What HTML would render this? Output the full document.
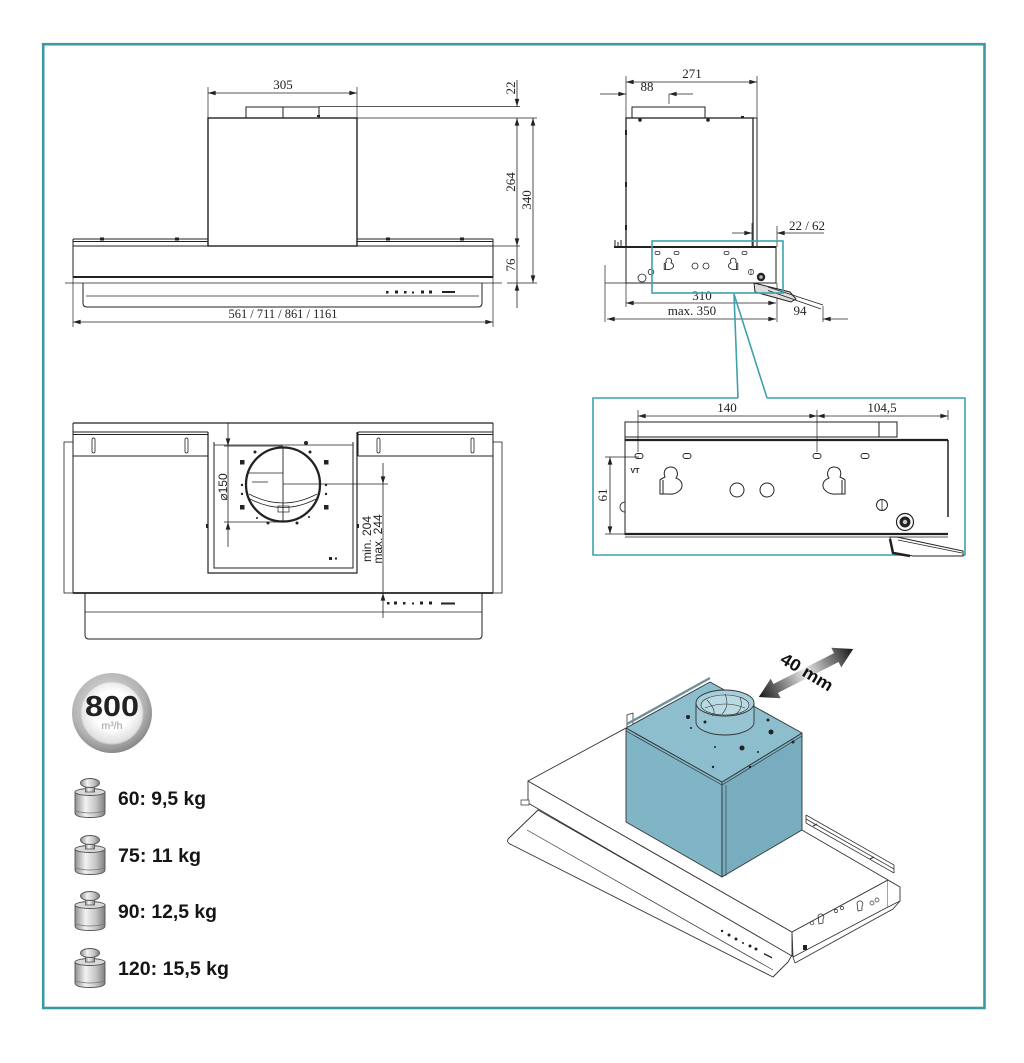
<!DOCTYPE html>
<html>
<head>
<meta charset="utf-8">
<style>
html,body{margin:0;padding:0;background:#fff}
svg{display:block}
.d{font-family:"Liberation Serif",serif;font-size:13px;fill:#222;text-anchor:middle;stroke:none}
.s{font-family:"Liberation Sans","DejaVu Sans",sans-serif;font-size:12px;fill:#222;text-anchor:middle;stroke:none}
.w{font-family:"Liberation Sans",sans-serif;font-size:19px;font-weight:bold;fill:#151515;stroke:none}
</style>
</head>
<body>
<svg width="1024" height="1063" viewBox="0 0 1024 1063" xmlns="http://www.w3.org/2000/svg">
<defs>
  <marker id="m" viewBox="0 0 10 6" refX="10" refY="3" markerWidth="8" markerHeight="4.6" markerUnits="userSpaceOnUse" orient="auto-start-reverse">
    <path d="M0,0 L10,3 L0,6 Z" fill="#222"/>
  </marker>
  <linearGradient id="wg" x1="0" y1="0" x2="1" y2="0">
    <stop offset="0" stop-color="#8e8e8e"/>
    <stop offset="0.35" stop-color="#f2f2f2"/>
    <stop offset="0.7" stop-color="#c4c4c4"/>
    <stop offset="1" stop-color="#7e7e7e"/>
  </linearGradient>
  <radialGradient id="bg1" cx="0.45" cy="0.4" r="0.6">
    <stop offset="0" stop-color="#e6e6e6"/>
    <stop offset="0.75" stop-color="#b3b3b3"/>
    <stop offset="1" stop-color="#8a8a8a"/>
  </radialGradient>
  <radialGradient id="bg2" cx="0.5" cy="0.45" r="0.55">
    <stop offset="0.55" stop-color="#ffffff"/>
    <stop offset="1" stop-color="#dcdcdc"/>
  </radialGradient>
  <linearGradient id="ag" x1="0" y1="0" x2="1" y2="0">
    <stop offset="0" stop-color="#151515"/>
    <stop offset="0.5" stop-color="#eaeaea"/>
    <stop offset="1" stop-color="#151515"/>
  </linearGradient>
  <g id="wt">
    <path d="M0,14 V35 Q0,39.5 15,39.5 Q30,39.5 30,35 V14 Z" fill="url(#wg)" stroke="#555" stroke-width="0.9"/>
    <path d="M0.5,33 Q15,37 29.5,33" fill="none" stroke="#777" stroke-width="0.7"/>
    <ellipse cx="15" cy="14" rx="15" ry="3.5" fill="#d8d8d8" stroke="#555" stroke-width="0.9"/>
    <rect x="10.5" y="6" width="9" height="8" fill="url(#wg)" stroke="#555" stroke-width="0.8"/>
    <ellipse cx="15" cy="5" rx="9.5" ry="4.5" fill="url(#wg)" stroke="#555" stroke-width="0.9"/>
  </g>
  <path id="kh" d="M660,480 L660,494 L668,494 C676,495 683,490 682,484 C681,480 678,479 676,478 C679,474 677,467 671,467 C665,467 663,472 665,477 C663,478 661,479 660,480 Z M663,480 V494"/>
</defs>

<rect x="0" y="0" width="1024" height="1063" fill="#fff"/>
<rect x="43.2" y="44.2" width="941.3" height="963.8" fill="none" stroke="#3a9aa4" stroke-width="2.6"/>

<!-- ================= FRONT VIEW ================= -->
<g stroke="#222" fill="none" stroke-width="1">
  <line x1="208" y1="93" x2="357" y2="93" stroke-width=".8" marker-start="url(#m)" marker-end="url(#m)"/>
  <path d="M208,87V118M357,87V118" stroke-width=".7"/>
  <rect x="246" y="107" width="73" height="11"/>
  <path d="M283,107V118"/>
  <path d="M319,106.5H520" stroke-width=".7"/>
  <rect x="208" y="118" width="149" height="128" stroke-width="1.4"/>
  <path d="M357,118H537" stroke-width=".7"/>
  <path d="M73,239H208M73,241.5H208M73,239V246M357,239H493M357,241.5H493M493,239V246"/>
  <rect x="73" y="246" width="420" height="31"/>
  <path d="M73,277H493" stroke-width="2"/>
  <path d="M65,283H502" stroke-width=".8"/>
  <path d="M493,246H520M507,283H537" stroke-width=".7"/>
  <path d="M83,283V303Q83,307 87,307H478Q482,307 482,303V283"/>
  <path d="M86,296H479" stroke-width=".7"/>
  <line x1="517" y1="80" x2="517" y2="106.5" stroke-width=".8" marker-end="url(#m)"/>
  <line x1="517" y1="118" x2="517" y2="246" stroke-width=".8" marker-start="url(#m)" marker-end="url(#m)"/>
  <line x1="517" y1="246" x2="517" y2="283" stroke-width=".8"/>
  <line x1="517" y1="308" x2="517" y2="283" stroke-width=".8" marker-end="url(#m)"/>
  <line x1="533" y1="118" x2="533" y2="283" stroke-width=".8" marker-start="url(#m)" marker-end="url(#m)"/>
  <line x1="73" y1="322" x2="493" y2="322" stroke-width=".8" marker-start="url(#m)" marker-end="url(#m)"/>
  <path d="M73,277V327M493,277V327" stroke-width=".7"/>
</g>
<g fill="#222">
  <rect x="100" y="237.5" width="4" height="3"/><rect x="175" y="237.5" width="4" height="3"/>
  <rect x="386" y="237.5" width="4" height="3"/><rect x="460" y="237.5" width="4" height="3"/>
  <rect x="386" y="291" width="2.5" height="2.5"/><rect x="395" y="290.5" width="3" height="3"/>
  <rect x="404" y="291" width="2.5" height="2.5"/><rect x="412" y="291.5" width="2" height="2"/>
  <rect x="421" y="290.5" width="3" height="3"/><rect x="429" y="290.5" width="3" height="3"/>
  <rect x="442" y="291" width="13" height="2"/>
  <rect x="317" y="115" width="3" height="2"/>
</g>
<text class="d" x="283" y="89">305</text>
<text class="d" x="283" y="318" textLength="109" lengthAdjust="spacingAndGlyphs">561 / 711 / 861 / 1161</text>
<text class="d" transform="translate(515,88) rotate(-90)">22</text>
<text class="d" transform="translate(515,182) rotate(-90)">264</text>
<text class="d" transform="translate(531,200) rotate(-90)">340</text>
<text class="d" transform="translate(515,265) rotate(-90)">76</text>

<!-- ================= SIDE VIEW ================= -->
<g stroke="#222" fill="none" stroke-width="1">
  <line x1="626" y1="82" x2="757" y2="82" stroke-width=".8" marker-start="url(#m)" marker-end="url(#m)"/>
  <path d="M626,76V118M757,76V118" stroke-width=".7"/>
  <line x1="600" y1="94" x2="626" y2="94" stroke-width=".8" marker-end="url(#m)"/>
  <line x1="693" y1="94" x2="669" y2="94" stroke-width=".8" marker-end="url(#m)"/>
  <path d="M669,94V104" stroke-width=".7"/>
  <rect x="632" y="107" width="73" height="11"/>
  <rect x="626" y="118" width="127" height="129" stroke-width="1.3"/>
  <path d="M753,118H757V247"/>
  <rect x="626" y="247" width="150" height="36"/>
  <path d="M614,247H776" stroke-width="2"/>
  <path d="M615,240V247M618,242V247M621,240V247" stroke-width="1"/>
  <line x1="732" y1="233" x2="752" y2="233" stroke-width=".8" marker-end="url(#m)"/>
  <line x1="824" y1="233" x2="777" y2="233" stroke-width=".8" marker-end="url(#m)"/>
  <path d="M752,223V247M777,226V247" stroke-width=".7"/>
  <line x1="626" y1="303" x2="776" y2="303" stroke-width=".8" marker-start="url(#m)" marker-end="url(#m)"/>
  <line x1="607" y1="319" x2="776" y2="319" stroke-width=".8" marker-start="url(#m)" marker-end="url(#m)"/>
  <line x1="848" y1="319" x2="823" y2="319" stroke-width=".8" marker-end="url(#m)"/>
  <path d="M605,265V322M626,283V307M777,283V322M823,306V322M605,283H626" stroke-width=".7"/>
  <!-- holes -->
  <rect x="655" y="251.5" width="5" height="3" rx="1.5" stroke-width=".7"/>
  <rect x="674" y="251.5" width="5" height="3" rx="1.5" stroke-width=".7"/>
  <rect x="724" y="251.5" width="5" height="3" rx="1.5" stroke-width=".7"/>
  <rect x="742" y="251.5" width="5" height="3" rx="1.5" stroke-width=".7"/>
  <use href="#kh" transform="translate(668,264) scale(0.42) translate(-669,-481)" stroke-width="2"/>
  <use href="#kh" transform="translate(734,264) scale(-0.42,0.42) translate(-669,-481)" stroke-width="2"/>
  <circle cx="695" cy="266" r="3" stroke-width=".8"/>
  <circle cx="706" cy="266" r="3" stroke-width=".8"/>
  <circle cx="642" cy="278" r="4" stroke-width=".8"/>
  <circle cx="651" cy="272" r="2.8" stroke-width=".8"/>
  <circle cx="751" cy="272" r="2.6" stroke-width=".7"/>
  <path d="M751,269.5V274.5" stroke-width=".6"/>
  <!-- flap -->
  <path d="M754,283 L790,292 L796,299 L791,302 L755,292 Z" fill="#ddd" stroke-width="1"/>
  <path d="M768,287 L823,305 M768,290.5 L821,309" stroke-width=".8"/>
</g>
<g fill="#222">
  <circle cx="640" cy="120" r="1.8"/><circle cx="708" cy="120" r="1.8"/>
  <rect x="741" y="116" width="3" height="2"/>
  <rect x="625" y="130" width="2" height="5"/><rect x="625" y="182" width="2" height="5"/><rect x="625" y="225" width="2" height="5"/>
  <circle cx="761" cy="277" r="4.2"/>
</g>
<circle cx="761" cy="277" r="1.8" fill="#bbb"/>
<text class="d" x="692" y="78">271</text>
<text class="d" x="647" y="91">88</text>
<text class="d" x="807" y="230">22 / 62</text>
<text class="d" x="702" y="300">310</text>
<text class="d" x="692" y="315">max. 350</text>
<text class="d" x="800" y="315">94</text>

<!-- teal callout -->
<g stroke="#3fa1ab" fill="none" stroke-width="1.6">
  <rect x="652" y="241" width="131" height="52"/>
  <path d="M734,294 L738,398 M734,294 L767,398"/>
  <path d="M738,398 H593 V555 H965 V398 H767"/>
</g>

<!-- ================= DETAIL BOX ================= -->
<g stroke="#222" fill="none" stroke-width="1">
  <line x1="638" y1="416" x2="817" y2="416" stroke-width=".8" marker-start="url(#m)" marker-end="url(#m)"/>
  <line x1="817" y1="416" x2="948" y2="416" stroke-width=".8" marker-start="url(#m)" marker-end="url(#m)"/>
  <path d="M638,410V452M817,410V452M948,410V420" stroke-width=".7"/>
  <rect x="625" y="422" width="272" height="15"/>
  <path d="M879,422V437"/>
  <path d="M625,440H948" stroke-width="2.2"/>
  <path d="M625,422V535"/>
  <path d="M948,440V517" stroke-width="1.5"/>
  <path d="M625,534H948" stroke-width="2.2"/>
  <path d="M625,537H948" stroke-width=".7"/>
  <rect x="635" y="453.5" width="8" height="5" rx="2.5" stroke-width=".9"/>
  <rect x="683" y="453.5" width="8" height="5" rx="2.5" stroke-width=".9"/>
  <rect x="813" y="453.5" width="8" height="5" rx="2.5" stroke-width=".9"/>
  <rect x="861" y="453.5" width="8" height="5" rx="2.5" stroke-width=".9"/>
  <line x1="610" y1="457" x2="610" y2="534" stroke-width=".8" marker-start="url(#m)" marker-end="url(#m)"/>
  <path d="M605,457H639M605,534H625" stroke-width=".7"/>
  <use href="#kh"/>
  <use href="#kh" transform="translate(1505,0) scale(-1,1)"/>
  <circle cx="737" cy="490" r="7"/>
  <circle cx="767" cy="490" r="7"/>
  <circle cx="882" cy="505" r="5.5"/>
  <path d="M882,499.5V510.5" stroke-width=".8"/>
  <path d="M625,502 A5,5 0 0 0 625,512" stroke-width=".8"/>
  <circle cx="905" cy="522" r="8.5" stroke-width="1.2"/>
  <path d="M890,537 L897,537 L963,551 L963,556 L913,556 L892,552 Z" fill="#fff" stroke-width="1"/>
  <path d="M890,539 L893,553 L910,556" stroke-width="2.5"/>
  <path d="M898,540 L962,553" stroke-width=".8"/>
</g>
<circle cx="905" cy="522" r="5.5" fill="#222"/>
<circle cx="905" cy="522" r="2.2" fill="#ccc"/>
<text class="d" x="727" y="412">140</text>
<text class="d" x="882" y="412">104,5</text>
<text class="d" transform="translate(607,495) rotate(-90)">61</text>
<text x="635" y="473" style="font-family:'Liberation Sans',sans-serif;font-size:7px;font-weight:bold;fill:#222;text-anchor:middle">VT</text>

<!-- ================= TOP VIEW ================= -->
<g stroke="#222" fill="none" stroke-width="1">
  <path d="M73,423H493" stroke-width="1.3"/>
  <path d="M73,423V432M493,423V432"/>
  <path d="M73,432H208M73,434.5H208M358,432H493M358,434.5H493" stroke-width="1.1"/>
  <path d="M73,432V593M493,432V593"/>
  <path d="M73,456H208M358,456H493"/>
  <rect x="64" y="442" width="9" height="151" stroke-width=".8"/>
  <rect x="493" y="442" width="9" height="151" stroke-width=".8"/>
  <path d="M73,593H493" stroke-width="1.8"/>
  <path d="M85,593V635Q85,639 89,639H478Q482,639 482,635V593"/>
  <path d="M85,612H482" stroke-width=".7"/>
  <path d="M208,432V573H357V432" stroke-width="1.2"/>
  <path d="M214,442V568H353V442" stroke-width="1"/>
  <path d="M214,445H353" stroke-width=".8"/>
  <path d="M358,432V456" />
  <rect x="92" y="438" width="3" height="15" rx="1.5" stroke-width=".8"/>
  <rect x="185" y="438" width="3" height="15" rx="1.5" stroke-width=".8"/>
  <rect x="377" y="438" width="3" height="15" rx="1.5" stroke-width=".8"/>
  <rect x="471" y="438" width="3" height="15" rx="1.5" stroke-width=".8"/>
  <circle cx="283" cy="484.5" r="37" stroke-width="2.3"/>
  <path d="M283,448V522" stroke-width=".9"/>
  <path d="M248,473H283M252,482H268" stroke-width=".8"/>
  <path d="M249,494 Q283,512 317,494 M250,499 Q283,516 316,499" stroke-width=".8"/>
  <rect x="278" y="506" width="11" height="6" stroke-width=".7"/>
  <line x1="228" y1="423" x2="228" y2="446" stroke-width=".8" marker-end="url(#m)"/>
  <line x1="228" y1="446" x2="228" y2="522" stroke-width=".8"/>
  <line x1="228" y1="547" x2="228" y2="522" stroke-width=".8" marker-end="url(#m)"/>
  <path d="M224,446H283M224,522H283" stroke-width=".7"/>
  <path d="M283,484H388" stroke-width=".7"/>
  <line x1="383" y1="463" x2="383" y2="484" stroke-width=".8" marker-end="url(#m)"/>
  <line x1="383" y1="484" x2="383" y2="593" stroke-width=".8"/>
  <line x1="383" y1="618" x2="383" y2="593" stroke-width=".8" marker-end="url(#m)"/>
</g>
<g fill="#222">
  <rect x="240" y="460" width="4.5" height="4.5"/><rect x="324" y="460" width="4.5" height="4.5"/>
  <rect x="240" y="505" width="4.5" height="4.5"/><rect x="324" y="505" width="4.5" height="4.5"/>
  <circle cx="242" cy="485" r="1.2"/><circle cx="242" cy="494" r="1.2"/>
  <circle cx="326" cy="485" r="1.2"/><circle cx="326" cy="494" r="1.2"/>
  <circle cx="255" cy="452" r="1.5"/><circle cx="310" cy="452" r="1.5"/>
  <circle cx="268" cy="523" r="1.5"/><circle cx="297" cy="523" r="1.5"/>
  <circle cx="257" cy="518" r="1"/><circle cx="309" cy="517" r="1"/>
  <circle cx="306" cy="443" r="2"/>
  <rect x="329" y="557" width="3" height="3"/><rect x="335" y="557.5" width="2" height="2"/>
  <rect x="206" y="524" width="2" height="4"/><rect x="357" y="524" width="2" height="4"/>
  <rect x="387" y="602" width="2.5" height="2.5"/><rect x="394" y="601.5" width="3" height="3"/>
  <rect x="403" y="602" width="2.5" height="2.5"/><rect x="412" y="602.5" width="2" height="2"/>
  <rect x="420" y="601.5" width="3" height="3"/><rect x="429" y="601.5" width="3" height="3"/>
  <rect x="441" y="602.5" width="14" height="2"/>
</g>
<text class="s" transform="translate(227,487) rotate(-90)">⌀150</text>
<text class="s" transform="translate(371,539) rotate(-90)">min. 204</text>
<text class="s" transform="translate(382,539) rotate(-90)">max. 244</text>

<!-- ================= BADGE & WEIGHTS ================= -->
<circle cx="112" cy="713" r="40" fill="url(#bg1)"/>
<circle cx="112" cy="713" r="31" fill="url(#bg2)" stroke="#c9c9c9" stroke-width="1"/>
<text x="112" y="716" textLength="54" lengthAdjust="spacingAndGlyphs" style="font-family:'Liberation Sans',sans-serif;font-size:29px;font-weight:bold;fill:#222;text-anchor:middle">800</text>
<text x="112" y="729" style="font-family:'Liberation Sans',sans-serif;font-size:10.5px;fill:#9a9a9a;text-anchor:middle">m³/h</text>

<use href="#wt" x="75" y="778"/>
<use href="#wt" x="75" y="835"/>
<use href="#wt" x="75" y="891"/>
<use href="#wt" x="75" y="948"/>
<text class="w" x="118" y="805" textLength="88" lengthAdjust="spacingAndGlyphs">60: 9,5 kg</text>
<text class="w" x="118" y="862" textLength="83" lengthAdjust="spacingAndGlyphs">75: 11 kg</text>
<text class="w" x="118" y="918" textLength="99" lengthAdjust="spacingAndGlyphs">90: 12,5 kg</text>
<text class="w" x="118" y="975" textLength="111" lengthAdjust="spacingAndGlyphs">120: 15,5 kg</text>

<!-- ================= 3D VIEW ================= -->
<g stroke="#333" stroke-width=".9" stroke-linejoin="round" fill="none">
  <!-- flap -->
  <path d="M538,810 L792,955 L788,962 L773,977 L512,845 Q505,842 509,838 Z" fill="#fff"/>
  <path d="M527,830 L773,970" stroke-width=".7"/>
  <!-- slab front -->
  <path d="M528,781 L792,932 L792,956 L528,803 Z" fill="#fff"/>
  <rect x="521" y="800" width="8" height="5" fill="#fff" stroke-width=".7"/>
  <!-- slab top -->
  <path d="M528,781 L626,728 L888,880 L792,932 Z" fill="#fff"/>
  <path d="M600,742 L626,728" stroke-width=".7"/>
  <path d="M627,727 V715 L633,713 V724" stroke-width=".8" fill="#fff"/>
  <!-- rear rail -->
  <path d="M806,819 L894,869 M806,823 L894,873 M806,815 L806,823 M806,815 L894,865 M894,865 L894,873" stroke-width=".8"/>
  <path d="M813,826 l4,-2 M870,859 l4,-2" stroke-width="1.2"/>
  <!-- housing -->
  <path d="M792,932 L888,880 L888,907 L793,957 Z" fill="#fff"/>
  <path d="M888,880 L900,887 L900,901 L888,907" fill="#fff"/>
  <path d="M795,963 L893,909 L900,901" stroke-width=".9"/>
  <path d="M793,957 L795,963" stroke-width=".8"/>
  <!-- flap controls -->
  <circle cx="812" cy="923" r="1.8" stroke-width=".7"/>
  <path d="M818,916 a3,3 0 1 1 5,3 l0,4 -4,1 z" stroke-width=".8"/>
  <circle cx="836" cy="911" r="1.6" stroke-width=".7"/>
  <circle cx="842" cy="908" r="1.6" stroke-width=".7"/>
  <path d="M857,903 a3,3 0 1 1 5,3 l0,4 -4,1 z" stroke-width=".8"/>
  <circle cx="872" cy="903" r="2" stroke-width=".7"/>
  <circle cx="877" cy="900" r="2" stroke-width=".7"/>
  <!-- box -->
  <path d="M626,728 L722,782 L722,877 L626,822 Z" fill="#80b5c6"/>
  <path d="M722,782 L802,733 L802,830 L722,877 Z" fill="#78adc0"/>
  <path d="M626,728 L710,682 L802,733 L722,782 Z" fill="#8dbecd"/>
  <path d="M627,724 L710,678" stroke="#6f8f99" stroke-width="2.4"/>
  <path d="M626,731 L722,785 L802,736" stroke-width=".7"/>
  <path d="M726,785 V876" stroke-width=".6"/>
  <!-- ring -->
  <path d="M696,703 L696,722 A29,13 0 0 0 754,722 L754,703 Z" fill="#97c4d2"/>
  <ellipse cx="725" cy="703" rx="29" ry="13" fill="#a7cfdb"/>
  <ellipse cx="725" cy="705" rx="24" ry="10" fill="#b9d9e3" stroke-width=".6"/>
  <path d="M707,700 Q718,712 712,716 M725,694 Q730,706 722,714 M740,697 Q744,708 736,714 M705,708 Q725,700 745,708" stroke-width=".6"/>
</g>
<g fill="#222">
  <circle cx="688" cy="717" r="2"/><circle cx="691" cy="728" r="1"/><circle cx="705" cy="722" r="1.5"/>
  <circle cx="768" cy="720" r="1.5"/><circle cx="771" cy="732" r="2.5"/><circle cx="742" cy="748" r="2.5"/>
  <circle cx="715" cy="747" r="1"/><circle cx="793" cy="742" r="1.5"/><circle cx="713" cy="767" r="1.2"/>
  <circle cx="750" cy="767" r="1.2"/><circle cx="758" cy="752" r="1"/>
  <circle cx="722" cy="931" r="1.2"/><circle cx="729" cy="935" r="1.5"/><circle cx="736" cy="939" r="1.5"/>
  <circle cx="743" cy="943" r="1"/><circle cx="750" cy="946" r="1.5"/><circle cx="756" cy="949" r="1.5"/>
  <path d="M764,953 l8,4 0,1.5 -8,-4z"/>
  <rect x="803" y="945" width="4" height="5"/>
</g>
<!-- 40 mm arrow -->
<g transform="translate(806,673) rotate(-27)">
  <path d="M-53,0 L-34,-11 L-34,-5 L34,-5 L34,-11 L53,0 L34,11 L34,5 L-34,5 L-34,11 Z" fill="url(#ag)"/>
</g>
<text transform="translate(804,677) rotate(31)" textLength="58" lengthAdjust="spacingAndGlyphs" style="font-family:'Liberation Sans',sans-serif;font-size:17px;font-weight:bold;fill:#111;text-anchor:middle">40 mm</text>
</svg>
</body>
</html>
